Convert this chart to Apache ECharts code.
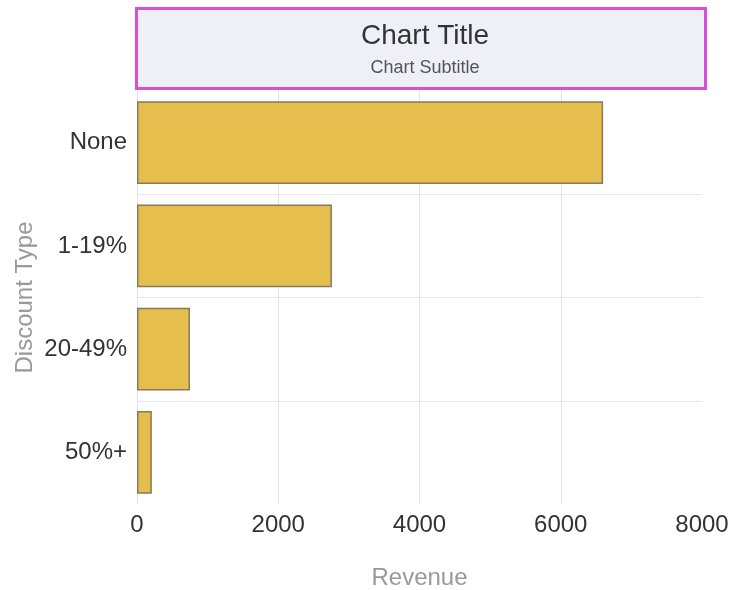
<!DOCTYPE html>
<html><head><meta charset="utf-8">
<script src="https://cdn.jsdelivr.net/npm/echarts@6/dist/echarts.min.js"></script>
<style>html,body{margin:0;padding:0;background:#fff}#c{width:730px;height:590px}</style>
</head><body><div id="c"></div>
<script>
const categories = ["None", "1-19%", "20-49%", "50%+"];
const revenue = [6600, 2760, 750, 210];
const xTicks = [0, 2000, 4000, 6000, 8000];

const FF = "'Liberation Sans', Arial, sans-serif";
const chart = echarts.init(document.getElementById('c'), null, {renderer: 'canvas'});
chart.setOption({
  animation: false,
  backgroundColor: '#ffffff',
  graphic: [{
    type: 'rect', left: 135, top: 7, z: 0,
    shape: {width: 569, height: 80},
    style: {fill: '#EFEFF8', stroke: '#D64FD6', lineWidth: 3}
  }],
  title: {
    text: 'Chart Title', subtext: 'Chart Subtitle',
    left: 420, top: 17, textAlign: 'center', itemGap: 9, z: 10,
    textStyle: {fontFamily: FF, fontSize: 28, fontWeight: 'normal', color: '#333333'},
    subtextStyle: {fontFamily: FF, fontSize: 18, color: '#555555'}
  },
  grid: {left: 137, right: 28, top: 91, bottom: 86, containLabel: false, outerBoundsMode: 'none'},
  xAxis: {
    type: 'value', min: xTicks[0], max: xTicks[xTicks.length - 1], interval: 2000,
    name: 'Revenue', nameLocation: 'middle', nameGap: 62, nameMoveOverlap: false,
    nameTextStyle: {fontFamily: FF, fontSize: 24, color: '#999999'},
    axisLine: {show: false}, axisTick: {show: false},
    axisLabel: {fontFamily: FF, fontSize: 24, color: '#333333', margin: 9,
      formatter: function (v) { return String(v); }},
    splitLine: {show: true, showMaxLine: false, lineStyle: {color: '#e3e3e3', width: 1}}
  },
  yAxis: {
    type: 'category', data: categories, inverse: true,
    name: 'Discount Type', nameLocation: 'middle', nameGap: 100, nameMoveOverlap: false,
    nameTextStyle: {fontFamily: FF, fontSize: 24, color: '#999999'},
    axisLine: {show: true, lineStyle: {color: '#e0e0e0'}}, axisTick: {show: false},
    axisLabel: {fontFamily: FF, fontSize: 24, color: '#333333', margin: 10},
    splitLine: {show: true, showMinLine: false, showMaxLine: false, lineStyle: {color: '#e8e8e8', width: 1}}
  },
  series: [{
    type: 'bar', data: revenue, barCategoryGap: '20%',
    itemStyle: {color: '#E6BE4E', borderColor: '#857a5c', borderWidth: 1.5}
  }]
});
</script></body></html>
